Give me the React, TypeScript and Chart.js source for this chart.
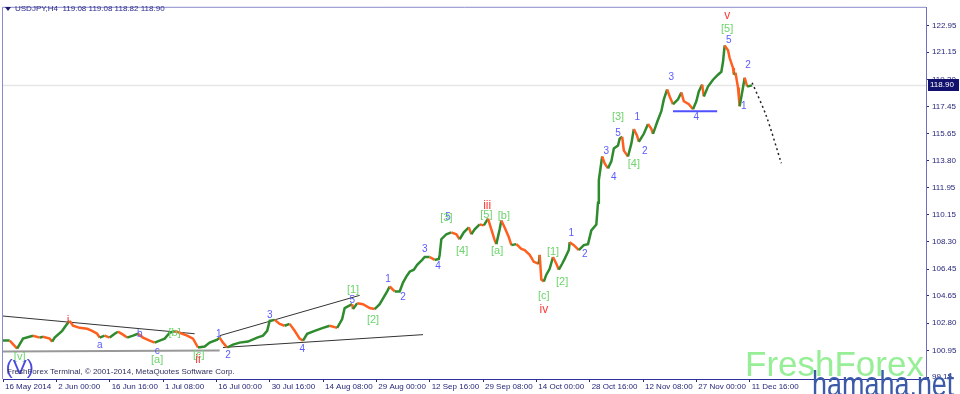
import React, { useEffect, useRef } from "react";
import { Chart, registerables } from "chart.js";
Chart.register(...registerables);

// ---- price path (H4 bar index, close) ----
const barIdx = [
  0, 8, 17, 24, 36, 44, 48, 56, 59, 62, 71, 77, 80, 84, 92, 101, 107, 113, 116, 122, 128, 134, 138, 144, 149, 156, 162, 168,
  176, 182, 188, 194, 200, 206, 212, 221, 228, 234, 242, 248, 257, 260, 264, 269, 276, 284, 294, 305, 312, 317, 320, 326,
  332, 338, 344, 350, 356, 360, 365, 374, 384, 392, 401, 407, 410, 419, 420, 425, 432, 440, 446, 452, 461, 464, 470, 476,
  480, 484, 488, 493, 497, 503, 506, 512, 518, 523, 524, 526, 532, 538, 544, 548, 553, 559, 562, 566, 572, 577, 582, 586,
  590, 592, 596, 598, 602, 607, 610, 616, 622, 626, 632, 637, 643, 644, 646, 649, 652, 656, 660, 664, 667, 671, 674, 679,
  680, 685, 691, 697, 702, 706, 712, 714, 715, 719, 722, 726, 730, 733, 738, 740, 743, 745, 750, 754, 757, 761, 763, 769,
  774, 778, 780, 785, 790, 793, 797, 800, 804, 810, 814, 817, 823, 828, 832, 835, 839, 841, 846, 852, 858, 862, 864, 866,
  870, 872, 876, 877, 879, 882, 883, 884, 888, 890, 893, 899,
];
const closes = [
  101.62, 101.62, 101.08, 101.75, 101.95, 101.82, 101.88, 101.75, 101.55, 101.82, 102.28, 102.75, 102.95, 102.62, 102.48,
  102.42, 102.28, 102.08, 101.82, 101.95, 101.82, 102.08, 102.22, 102.02, 101.82, 101.95, 102.08, 101.82, 101.62, 101.48,
  101.62, 101.75, 102.15, 102.28, 102.15, 101.95, 101.75, 101.15, 101.22, 101.48, 101.68, 101.82, 101.48, 101.15, 101.35,
  101.48, 101.55, 101.82, 101.95, 102.28, 102.95, 103.02, 102.75, 102.62, 102.75, 102.28, 101.75, 101.62, 102.08, 102.28,
  102.48, 102.62, 102.48, 103.08, 103.82, 104.08, 103.75, 104.15, 104.08, 103.82, 103.75, 104.08, 104.95, 105.28, 104.95,
  104.95, 105.55, 105.95, 106.28, 106.42, 106.75, 107.08, 107.28, 107.28, 107.08, 107.15, 107.42, 108.48, 108.82, 108.95,
  108.82, 108.48, 108.95, 109.28, 108.82, 109.15, 109.48, 109.42, 109.88, 109.15, 108.42, 108.15, 109.15, 109.75, 109.28,
  108.62, 108.08, 108.15, 107.82, 107.75, 107.42, 106.95, 106.82, 107.42, 105.75, 105.62, 106.08, 106.48, 107.28, 106.82,
  106.42, 106.82, 107.15, 107.75, 108.28, 108.08, 107.75, 108.08, 108.15, 109.08, 109.48, 110.95, 112.48, 114.08, 113.62,
  113.28, 113.75, 114.62, 114.82, 115.28, 115.42, 114.48, 114.08, 114.95, 115.95, 115.48, 115.08, 115.62, 116.28, 115.95,
  115.62, 116.42, 117.15, 117.95, 118.62, 118.15, 117.62, 117.95, 118.42, 117.82, 117.62, 117.28, 117.82, 118.48, 118.95,
  118.15, 118.82, 119.28, 119.62, 119.82, 120.48, 121.6, 121.28, 120.75, 120.08, 119.62, 119.75, 118.75, 118.08, 117.48,
  118.75, 119.42, 118.82, 118.9,
];
const lastPrice = 118.9;

// ---- axes ----
const dateLabels = [
  "16 May 2014", "2 Jun 00:00", "16 Jun 16:00", "1 Jul 08:00", "16 Jul 00:00", "30 Jul 16:00", "14 Aug 08:00",
  "29 Aug 00:00", "12 Sep 16:00", "29 Sep 08:00", "14 Oct 00:00", "28 Oct 16:00", "12 Nov 08:00", "27 Nov 00:00",
  "11 Dec 16:00",
];
const barsPerLabel = 64;
const priceTicks = [99.15, 100.95, 102.8, 104.65, 106.45, 108.3, 110.15, 111.95, 113.8, 115.65, 117.45, 119.3, 121.15, 122.95];

// ---- drawn objects ----
const fallLineBars = [0, 230];
const fallLinePrices = [103.28, 102.08];
const floorLineBars = [0, 260];
const floorLinePrices = [100.88, 100.95];
const upperLineBars = [260, 428];
const upperLinePrices = [101.95, 104.68];
const lowerLineBars = [264, 504];
const lowerLinePrices = [101.15, 102.02];
const flatBlueBars = [804, 857];
const flatBluePrices = [117.15, 117.15];
const projBars = [899, 916, 934];
const projPrices = [119.08, 116.82, 113.62];

// ---- wave labels ----
const blueText = ["a", "b", "c", "1", "2", "3", "4", "5", "1", "2", "3", "4", "5", "1", "2", "3", "4", "5", "1", "2", "3", "4", "5", "1", "2"];
const blueBar = [116, 164, 185, 259, 270, 320, 359, 419, 462, 480, 506, 522, 534, 682, 698, 724, 733, 738, 761, 770, 802, 832, 871, 889, 894];
const bluePrice = [101.28, 102.08, 100.88, 102.02, 100.62, 103.35, 101.02, 104.35, 105.75, 104.55, 107.82, 106.62, 109.95, 108.88, 107.48, 114.42, 112.68, 115.68, 116.75, 114.42, 119.42, 116.75, 121.95, 117.48, 120.29];
const greenText = ["[v]", "[a]", "[b]", "[c]", "[1]", "[2]", "[3]", "[4]", "[5]", "[a]", "[b]", "[c]", "[1]", "[2]", "[3]", "[4]", "[5]"];
const greenBar = [20, 185, 206, 235, 420, 444, 532, 551, 580, 593, 601, 649, 660, 671, 738, 757, 869];
const greenPrice = [100.48, 100.28, 102.15, 100.62, 105.02, 103.02, 109.95, 107.68, 110.15, 107.68, 110.08, 104.62, 107.62, 105.62, 116.75, 113.55, 122.75];
const redText = ["i", "ii", "iii", "iv", "v"];
const redBar = [78, 234, 581, 649, 869];
const redPrice = [102.95, 100.35, 110.75, 103.68, 123.62];
const bigText = ["(V)"];
const bigBar = [20];
const bigPrice = [99.75];

const GREEN = "#2e8b2e";
const ORANGE = "#ff5f1f";
const NAVY = "#26267a";

function pts(xs: number[], ys: number[]) {
  return xs.map((x, i) => ({ x, y: ys[i] }));
}

export default function App() {
  const ref = useRef<HTMLCanvasElement>(null);
  useEffect(() => {
    document.body.style.margin = "0";
    const overlay = {
      id: "overlay",
      beforeDatasetsDraw(chart: any) {
        const { ctx, chartArea, scales } = chart;
        const y = Math.round(scales.y.getPixelForValue(lastPrice)) + 0.5;
        ctx.save();
        ctx.strokeStyle = "#e6e6e6";
        ctx.lineWidth = 1.5;
        ctx.beginPath();
        ctx.moveTo(chartArea.left, y);
        ctx.lineTo(chartArea.right, y);
        ctx.stroke();
        ctx.restore();
      },
      afterDatasetsDraw(chart: any) {
        const { ctx, scales } = chart;
        const xs = scales.x, ys = scales.y;
        const draw = (t: string[], b: number[], p: number[], color: string, font: string) => {
          ctx.fillStyle = color;
          ctx.font = font;
          ctx.textAlign = "center";
          ctx.textBaseline = "middle";
          t.forEach((s, i) => ctx.fillText(s, xs.getPixelForValue(b[i]), ys.getPixelForValue(p[i])));
        };
        ctx.save();
        draw(blueText, blueBar, bluePrice, "#5a5aff", "10px 'Liberation Sans', Arial, sans-serif");
        draw(greenText, greenBar, greenPrice, "#6cd46c", "11px 'Liberation Sans', Arial, sans-serif");
        draw(redText, redBar, redPrice, "#ff3a3a", "12px 'Liberation Sans', Arial, sans-serif");
        draw(bigText, bigBar, bigPrice, "#4a4ae0", "21px 'Liberation Sans', Arial, sans-serif");
        ctx.restore();
      },
      afterDraw(chart: any) {
        const { ctx, chartArea, scales } = chart;
        ctx.save();
        // frame left/top
        ctx.strokeStyle = "#8a8acc";
        ctx.lineWidth = 1;
        ctx.beginPath();
        ctx.moveTo(chartArea.left - 0.5, chartArea.bottom);
        ctx.lineTo(chartArea.left - 0.5, chartArea.top - 0.5);
        ctx.lineTo(chartArea.right, chartArea.top - 0.5);
        ctx.stroke();
        // header
        ctx.fillStyle = "#1a1a70";
        ctx.beginPath();
        ctx.moveTo(5, 7);
        ctx.lineTo(11, 7);
        ctx.lineTo(8, 11);
        ctx.closePath();
        ctx.fill();
        ctx.font = "8px 'Liberation Sans', Arial, sans-serif";
        ctx.textAlign = "left";
        ctx.textBaseline = "middle";
        ctx.fillStyle = "#2a2a8a";
        ctx.fillText("USDJPY,H4  119.08 119.08 118.82 118.90", 15, 9);
        // copyright
        ctx.fillStyle = "#303060";
        ctx.fillText("FreshForex Terminal, \u00a9 2001-2014, MetaQuotes Software Corp.", 7, 372);
        // price tag
        const y = Math.round(scales.y.getPixelForValue(lastPrice));
        ctx.fillStyle = "#12126e";
        ctx.fillRect(chartArea.right + 2, y - 6, 31, 12);
        ctx.fillStyle = "#ffffff";
        ctx.fillText("118.90", chartArea.right + 4, y);
        // watermarks
        ctx.font = "35px 'Liberation Sans', Arial, sans-serif";
        ctx.fillStyle = "rgba(144,238,144,0.95)";
        ctx.textBaseline = "alphabetic";
        ctx.fillText("FreshForex", 745, 376);
        ctx.translate(812, 396);
        ctx.scale(0.77, 1);
        ctx.font = "35px 'Liberation Sans', Arial, sans-serif";
        ctx.fillStyle = "#3b5ba8";
        ctx.fillText("hamaha.net", 0, 0);
        ctx.restore();
      },
    };

    const chart = new Chart(ref.current!, {
      type: "line",
      data: {
        datasets: [
          {
            data: pts(barIdx, closes),
            borderWidth: 2.5,
            pointRadius: 0,
            borderColor: GREEN,
            segment: {
              borderColor: (c: any) => (c.p1.parsed.y >= c.p0.parsed.y ? GREEN : ORANGE),
            },
          },
          { data: pts(fallLineBars, fallLinePrices), borderColor: "#333333", borderWidth: 1, pointRadius: 0 },
          { data: pts(floorLineBars, floorLinePrices), borderColor: "#999999", borderWidth: 2, pointRadius: 0 },
          { data: pts(upperLineBars, upperLinePrices), borderColor: "#333333", borderWidth: 1, pointRadius: 0 },
          { data: pts(lowerLineBars, lowerLinePrices), borderColor: "#333333", borderWidth: 1, pointRadius: 0 },
          { data: pts(flatBlueBars, flatBluePrices), borderColor: "#5050ff", borderWidth: 2, pointRadius: 0 },
          {
            data: pts(projBars, projPrices),
            borderColor: "#222222",
            borderWidth: 1.5,
            borderDash: [2, 3],
            pointRadius: 0,
            tension: 0.3,
          },
        ],
      } as any,
      options: {
        responsive: false,
        animation: false,
        events: [],
        layout: { padding: { left: 3, top: 2, right: 0, bottom: 0 } },
        plugins: { legend: { display: false }, tooltip: { enabled: false } },
        scales: {
          x: {
            type: "linear",
            min: 0,
            max: 1107.6,
            afterFit: (s: any) => {
              s.height = 15;
            },
            afterBuildTicks: (s: any) => {
              s.ticks = dateLabels.map((_, i) => ({ value: i * barsPerLabel }));
            },
            ticks: {
              autoSkip: false,
              maxRotation: 0,
              align: "start",
              labelOffset: 2,
              padding: 0,
              color: NAVY,
              font: { size: 8, family: "'Liberation Sans', Arial, sans-serif" },
              callback: (_v: any, i: number) => dateLabels[i],
            },
            grid: { drawOnChartArea: false, tickLength: 3, color: NAVY },
            border: { color: "#3030a0" },
          },
          y: {
            type: "linear",
            position: "right",
            min: 99.017,
            max: 124.151,
            afterFit: (s: any) => {
              s.width = 34;
            },
            afterBuildTicks: (s: any) => {
              s.ticks = priceTicks.map((v) => ({ value: v }));
            },
            ticks: {
              padding: 3,
              color: NAVY,
              font: { size: 8, family: "'Liberation Sans', Arial, sans-serif" },
              callback: (v: any) => Number(v).toFixed(2),
            },
            grid: { drawOnChartArea: false, tickLength: 3, color: NAVY },
            border: { color: "#7070c0" },
          },
        },
      },
      plugins: [overlay],
    } as any);
    return () => chart.destroy();
  }, []);
  return (
    <div style={{ width: 960, height: 394 }}>
      <canvas ref={ref} width={960} height={394} style={{ display: "block" }} />
    </div>
  );
}
